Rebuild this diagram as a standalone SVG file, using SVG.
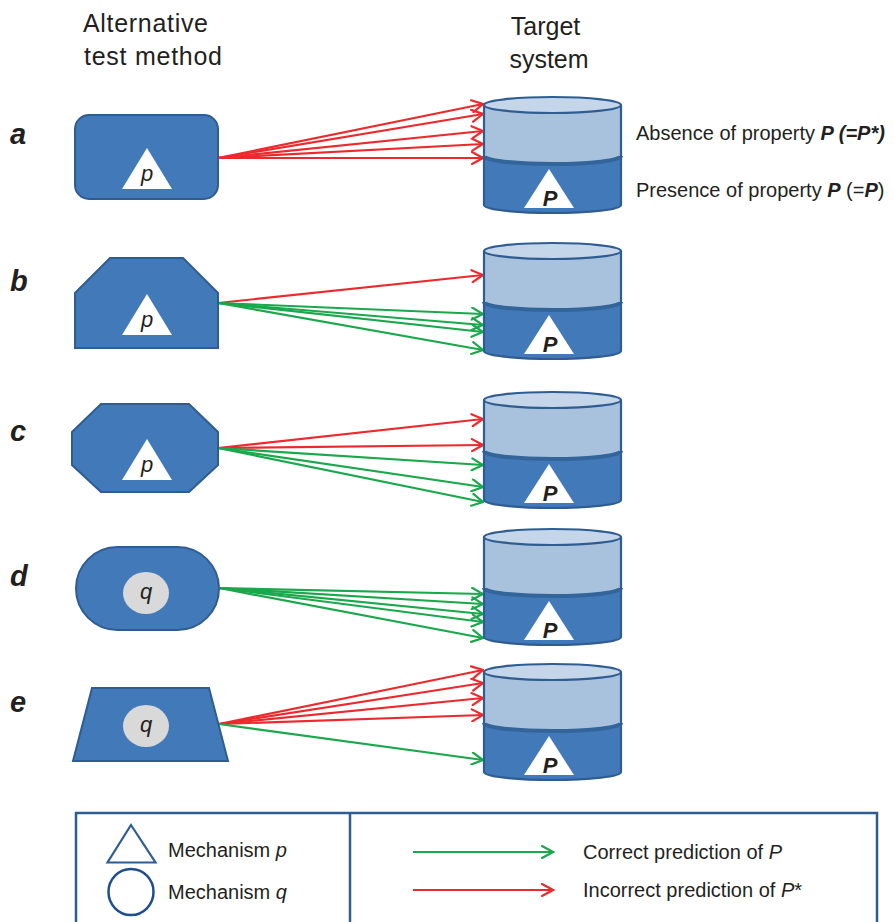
<svg xmlns="http://www.w3.org/2000/svg" xmlns:xlink="http://www.w3.org/1999/xlink" width="894" height="922" viewBox="0 0 894 922">
  <style>
    text { font-family: "Liberation Sans", Arial, sans-serif; fill: #231f20; }
    .head { font-size: 25px; text-anchor: middle; }
    .row { font-size: 29px; font-weight: bold; font-style: italic; }
    .body { font-size: 20px; }
    .mech { font-size: 22px; font-style: italic; text-anchor: middle; }
    .bigP { font-size: 22px; font-weight: bold; font-style: italic; text-anchor: middle; }
    .method { fill: #4279b8; stroke: #2f5d91; stroke-width: 2; }
    .tri { fill: #ffffff; stroke: none; }
    .qdot { fill: #d9d9d9; stroke: none; }
    .red { stroke: #ec2a2e; stroke-width: 2.2; fill: none; marker-end: url(#ah-red); }
    .green { stroke: #19a84b; stroke-width: 2.2; fill: none; marker-end: url(#ah-green); }
    .cyl-out { fill: none; stroke: #2f5d91; stroke-width: 2.2; }
    .legend { fill: none; stroke: #2f5d91; stroke-width: 2.5; }
  </style>
  <defs>
    <marker id="ah-red" viewBox="0 0 14 14" refX="12.5" refY="7" markerWidth="14" markerHeight="14" markerUnits="userSpaceOnUse" orient="auto">
      <path d="M1.5,1 L12.5,7 L1.5,13" fill="none" stroke="#ec2a2e" stroke-width="2.2" stroke-linecap="round"/>
    </marker>
    <marker id="ah-green" viewBox="0 0 14 14" refX="12.5" refY="7" markerWidth="14" markerHeight="14" markerUnits="userSpaceOnUse" orient="auto">
      <path d="M1.5,1 L12.5,7 L1.5,13" fill="none" stroke="#19a84b" stroke-width="2.2" stroke-linecap="round"/>
    </marker>
    <!-- two-layer cylinder drawn with its top at y=0 -->
    <g id="cylinder">
      <path d="M484,55 V108 A68.5,8 0 0 0 621,108 V55 Z" fill="#4279b8"/>
      <path d="M484,8 V59 A68.5,8 0 0 0 621,59 V8 Z" fill="#a8c2de"/>
      <path d="M484,59 A68.5,8 0 0 0 621,59" fill="none" stroke="#33659b" stroke-width="4"/>
      <path d="M484,8 V108 A68.5,8 0 0 0 621,108 V8" class="cyl-out"/>
      <ellipse cx="552.5" cy="8" rx="68.5" ry="8" fill="#c5d6ea" stroke="#2f5d91" stroke-width="2.2"/>
      <path d="M549,72 L574,111 L524,111 Z" class="tri"/>
      <text x="550" y="109" class="bigP">P</text>
    </g>
  </defs>

  <!-- column headings -->
  <g id="headings">
    <text x="145.5" y="32" class="head" textLength="125">Alternative</text>
    <text x="153" y="65" class="head" textLength="138">test method</text>
    <text x="545.5" y="35" class="head">Target</text>
    <text x="549" y="68" class="head">system</text>
  </g>

  <!-- row letters -->
  <g id="row-labels">
    <text x="10" y="144" class="row">a</text>
    <text x="10" y="291" class="row">b</text>
    <text x="10" y="441" class="row">c</text>
    <text x="10" y="586" class="row">d</text>
    <text x="10" y="712" class="row">e</text>
  </g>

  <!-- connectors -->
  <g id="connectors">
    <!-- a -->
    <line x1="218" y1="158" x2="483" y2="104" class="red"/>
    <line x1="218" y1="158" x2="483" y2="114" class="red"/>
    <line x1="218" y1="158" x2="483" y2="131" class="red"/>
    <line x1="218" y1="158" x2="483" y2="144" class="red"/>
    <line x1="218" y1="158" x2="483" y2="158" class="red"/>
    <!-- b -->
    <line x1="218" y1="303" x2="483" y2="275" class="red"/>
    <line x1="218" y1="303" x2="483" y2="314" class="green"/>
    <line x1="218" y1="303" x2="483" y2="325" class="green"/>
    <line x1="218" y1="303" x2="483" y2="332" class="green"/>
    <line x1="218" y1="303" x2="483" y2="350" class="green"/>
    <!-- c -->
    <line x1="218" y1="448" x2="483" y2="419" class="red"/>
    <line x1="218" y1="448" x2="483" y2="445" class="red"/>
    <line x1="218" y1="448" x2="483" y2="465" class="green"/>
    <line x1="218" y1="448" x2="483" y2="487" class="green"/>
    <line x1="218" y1="448" x2="483" y2="502" class="green"/>
    <!-- d -->
    <line x1="219" y1="588" x2="483" y2="594" class="green"/>
    <line x1="219" y1="588" x2="483" y2="604" class="green"/>
    <line x1="219" y1="588" x2="483" y2="614" class="green"/>
    <line x1="219" y1="588" x2="483" y2="622" class="green"/>
    <line x1="219" y1="588" x2="483" y2="638" class="green"/>
    <!-- e -->
    <line x1="219" y1="724" x2="483" y2="670" class="red"/>
    <line x1="219" y1="724" x2="483" y2="683" class="red"/>
    <line x1="219" y1="724" x2="483" y2="698" class="red"/>
    <line x1="219" y1="724" x2="483" y2="715" class="red"/>
    <line x1="219" y1="724" x2="483" y2="760" class="green"/>
  </g>

  <!-- test methods -->
  <g id="method-a">
    <rect x="75" y="115" width="143" height="84" rx="14" class="method"/>
    <path d="M147,148 L172,189 L122,189 Z" class="tri"/>
    <text x="147" y="181" class="mech">p</text>
  </g>
  <g id="method-b">
    <path d="M75,293 L110,258 L183,258 L218,293 L218,348 L75,348 Z" class="method"/>
    <path d="M147,294 L172,335 L122,335 Z" class="tri"/>
    <text x="147" y="327" class="mech">p</text>
  </g>
  <g id="method-c">
    <path d="M101,404 L189,404 L218,432 L218,465 L189,492 L101,492 L72,465 L72,432 Z" class="method"/>
    <path d="M147,439 L172,480 L122,480 Z" class="tri"/>
    <text x="147" y="472" class="mech">p</text>
  </g>
  <g id="method-d">
    <rect x="76" y="547" width="143" height="83" rx="41.5" class="method"/>
    <ellipse cx="146" cy="593" rx="23" ry="21" class="qdot"/>
    <text x="146" y="599" class="mech">q</text>
  </g>
  <g id="method-e">
    <path d="M92,688 L209,688 L228,761 L73,761 Z" class="method"/>
    <ellipse cx="146" cy="726" rx="23" ry="21" class="qdot"/>
    <text x="146" y="732" class="mech">q</text>
  </g>

  <!-- target systems -->
  <g id="target-a">
    <use xlink:href="#cylinder" href="#cylinder" transform="translate(0,97)"/>
    <text x="636" y="140" class="body">Absence of property <tspan font-weight="bold" font-style="italic">P (=P*)</tspan></text>
    <text x="636" y="197" class="body">Presence of property <tspan font-weight="bold" font-style="italic">P</tspan> (=<tspan font-weight="bold" font-style="italic">P</tspan>)</text>
  </g>
  <g id="target-b">
    <use xlink:href="#cylinder" href="#cylinder" transform="translate(0,243)"/>
  </g>
  <g id="target-c">
    <use xlink:href="#cylinder" href="#cylinder" transform="translate(0,392)"/>
  </g>
  <g id="target-d">
    <use xlink:href="#cylinder" href="#cylinder" transform="translate(0,529)"/>
  </g>
  <g id="target-e">
    <use xlink:href="#cylinder" href="#cylinder" transform="translate(0,664)"/>
  </g>

  <!-- key -->
  <g id="legend">
    <path d="M76,930 V813 H877 V930" class="legend"/>
    <line x1="350" y1="813" x2="350" y2="930" class="legend"/>
    <path d="M131,825 L155.5,862.5 L107.5,862.5 Z" fill="none" stroke="#2f5d91" stroke-width="2.2"/>
    <ellipse cx="131" cy="892" rx="22.5" ry="23" fill="none" stroke="#1f4e8c" stroke-width="2.5"/>
    <text x="168" y="857" class="body">Mechanism <tspan font-style="italic">p</tspan></text>
    <text x="168" y="899" class="body">Mechanism <tspan font-style="italic">q</tspan></text>
    <line x1="413" y1="852" x2="553" y2="852" class="green"/>
    <line x1="413" y1="890" x2="553" y2="890" class="red"/>
    <text x="583" y="859" class="body">Correct prediction of <tspan font-style="italic">P</tspan></text>
    <text x="583" y="897" class="body">Incorrect prediction of <tspan font-style="italic">P</tspan>*</text>
  </g>
</svg>
